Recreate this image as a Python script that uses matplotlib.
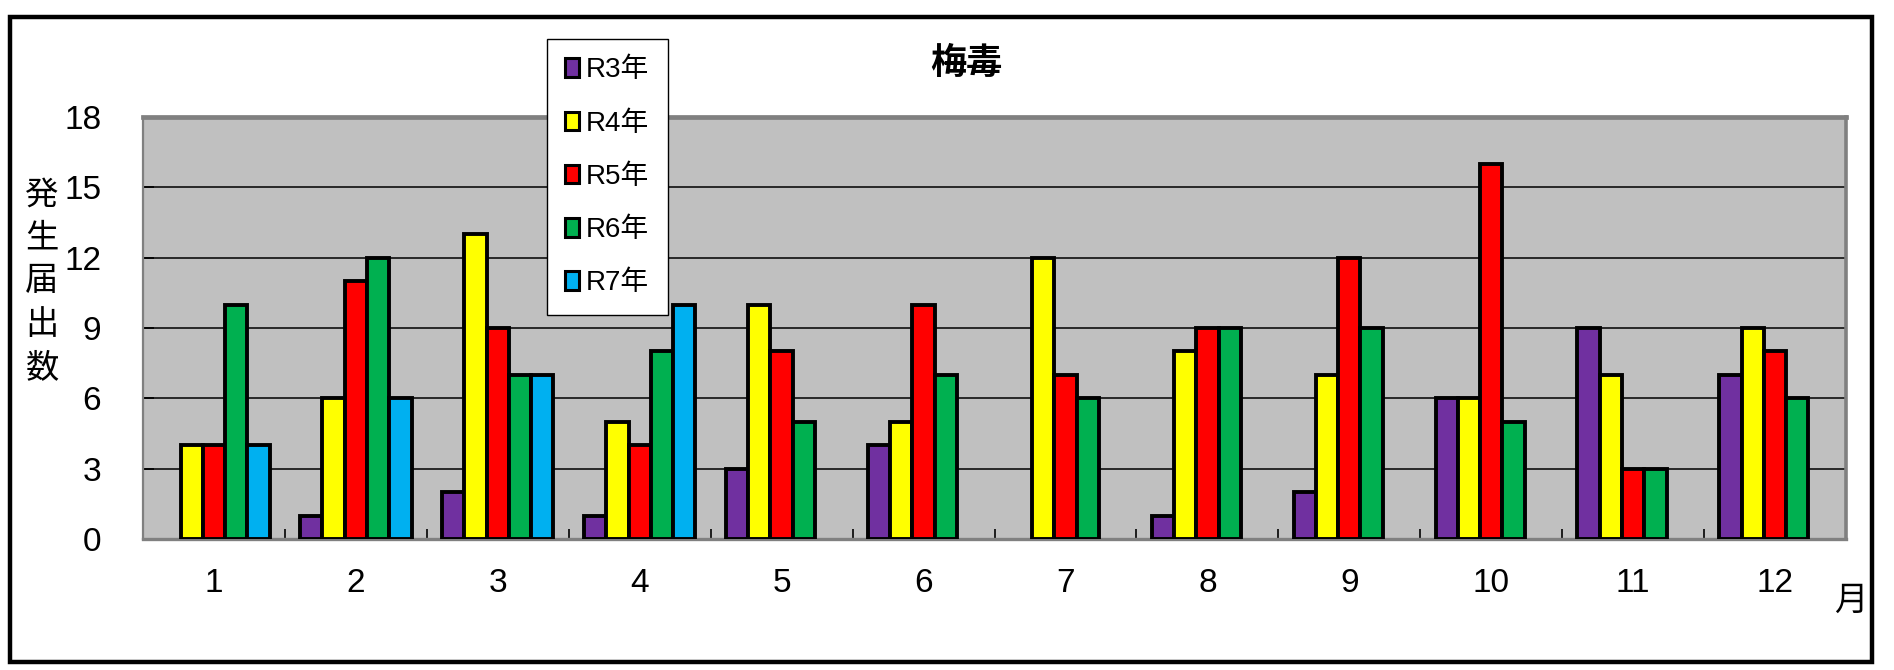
import numpy as np
import matplotlib
matplotlib.use("Agg")
import matplotlib.pyplot as plt
from matplotlib import font_manager
from matplotlib.patches import Patch, Rectangle

# ---- data ----
months = ["1", "2", "3", "4", "5", "6", "7", "8", "9", "10", "11", "12"]
series_names = ["R3年", "R4年", "R5年", "R6年", "R7年"]
r3 = [0, 1, 2, 1, 3, 4, 0, 1, 2, 6, 9, 7]
r4 = [4, 6, 13, 5, 10, 5, 12, 8, 7, 6, 7, 9]
r5 = [4, 11, 9, 4, 8, 10, 7, 9, 12, 16, 3, 8]
r6 = [10, 12, 7, 8, 5, 7, 6, 9, 9, 5, 3, 6]
r7 = [4, 6, 7, 10, None, None, None, None, None, None, None, None]
colors = ["#7030A0", "#FFFF00", "#FF0000", "#00B050", "#00B0F0"]
yticks = [0, 3, 6, 9, 12, 15, 18]
title = "梅毒"
ylabel = "発生届出数"
xlabel = "月"

# ---- fonts ----
avail = {f.name for f in font_manager.fontManager.ttflist}
narrow = "Liberation Sans Narrow" if "Liberation Sans Narrow" in avail else "Liberation Sans"
cjk = "Noto Sans CJK JP"
num_fam = [narrow, cjk, "DejaVu Sans"]
cjk_fam = [cjk, "DejaVu Sans"]
plt.rcParams["font.family"] = num_fam

W, H, DPI = 1894, 670, 100
fig = plt.figure(figsize=(W / DPI, H / DPI), dpi=DPI)
fig.patch.set_facecolor("white")

# outer frame
fig.patches.append(Rectangle((10 / W, 1 - 662 / H), (1872 - 10) / W, (662 - 17) / H,
                             transform=fig.transFigure, fill=False,
                             edgecolor="black", linewidth=3.2, zorder=0))

ax = fig.add_axes([143 / W, 1 - 539 / H, (1846 - 143) / W, (539 - 117) / H])
ax.set_facecolor("#C0C0C0")

x = np.arange(1, len(months) + 1)
data = [r3, r4, r5, r6, r7]
n = len(data)
bw = 0.157
for i, (vals, c) in enumerate(zip(data, colors)):
    h = np.array([np.nan if (v is None or v == 0) else v for v in vals], dtype=float)
    ax.bar(x + (i - (n - 1) / 2) * bw, h, width=bw, color=c,
           edgecolor="black", linewidth=2.8, zorder=3)

ax.set_xlim(0.5, 12.5)
ax.set_ylim(0, 18)
ax.set_yticks(yticks)
ax.set_yticklabels([str(t) for t in yticks])
ax.set_xticks(x)
ax.set_xticklabels(months)
ax.set_xticks(np.arange(1.5, 12.5, 1.0), minor=True)

ax.yaxis.grid(True, color="black", linewidth=1.1, zorder=1)
ax.set_axisbelow(True)

ax.tick_params(axis="x", which="major", length=0, pad=21, labelsize=24)
ax.tick_params(axis="x", which="minor", direction="in", length=7, width=1.2, color="black")
ax.tick_params(axis="y", direction="in", length=8, width=1.2, color="black", pad=30,
               labelsize=24)

for side, lw in (("left", 1.6), ("bottom", 2.4), ("top", 3.4), ("right", 2.6)):
    ax.spines[side].set_color("#808080")
    ax.spines[side].set_linewidth(lw)

# title
fig.text(966 / W, 1 - 63 / H, title, ha="center", va="center", fontsize=26,
         fontweight="bold", family=cjk_fam)

# vertical y label
fig.text(42 / W, 1 - 281 / H, "\n".join(ylabel), ha="center", va="center",
         fontsize=24, family=cjk_fam, linespacing=1.3)

# x label
fig.text(1851 / W, 1 - 600 / H, xlabel, ha="center", va="center", fontsize=24,
         family=cjk_fam)

# legend
handles = [Patch(facecolor=c, edgecolor="black", linewidth=2.2) for c in colors]
leg = fig.legend(handles, series_names, loc="upper left",
                 bbox_to_anchor=(547 / W, 1 - 39 / H), frameon=True, fancybox=False,
                 edgecolor="black", framealpha=1, prop={"family": num_fam, "size": 20},
                 handlelength=0.5, handleheight=0.65, handletextpad=0.25,
                 labelspacing=0.98, borderpad=0.66, borderaxespad=0)
leg.get_frame().set_linewidth(1.0)

fig.savefig("out.png", dpi=DPI, facecolor="white")
